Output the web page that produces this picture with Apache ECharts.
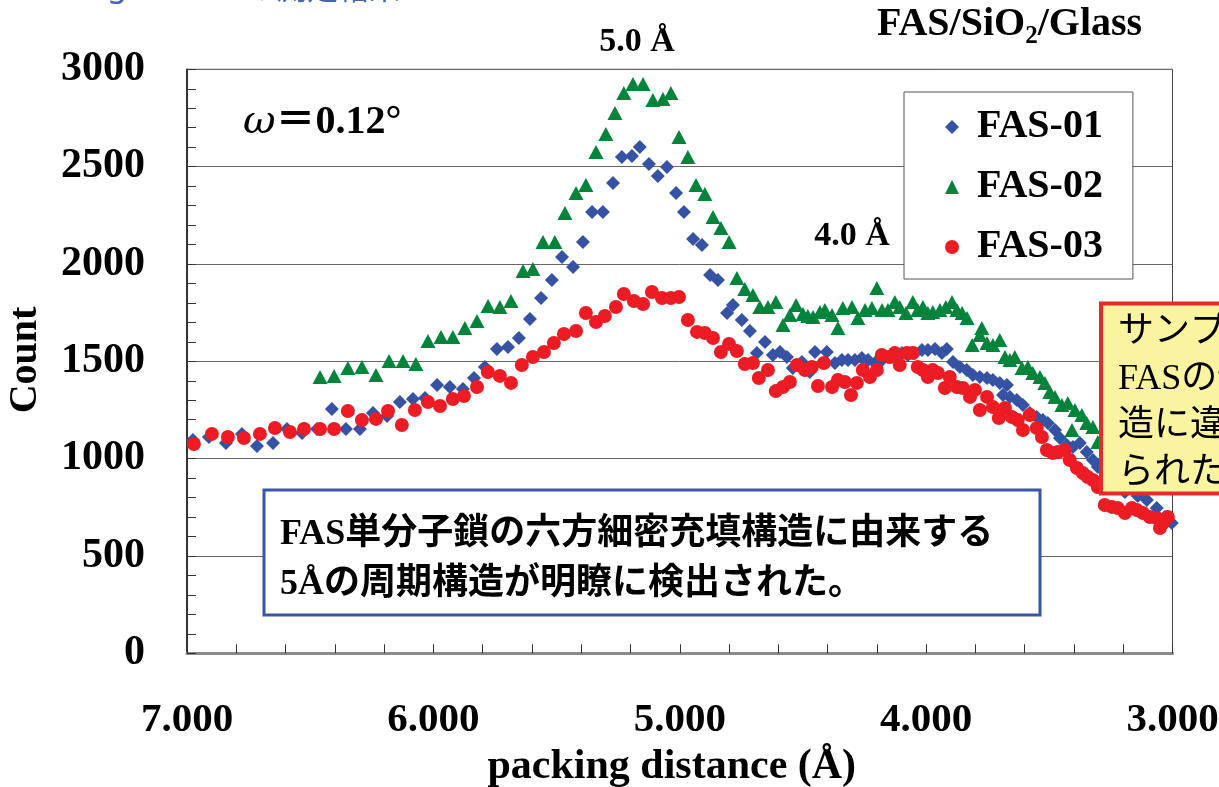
<!DOCTYPE html>
<html>
<head>
<meta charset="utf-8">
<script src="https://cdn.jsdelivr.net/npm/echarts@6/dist/echarts.min.js"></script>
<style>
  html, body { margin: 0; padding: 0; background: #fff; }
  #chart { width: 1219px; height: 787px; }
</style>
</head>
<body>
<div id="chart"></div>
<script>
// Series names
const seriesNames = ['FAS-01', 'FAS-02', 'FAS-03'];

// [packing distance (Å), count]
const fas01 = [
  [6.976,1096],[6.911,1111],[6.842,1080],[6.777,1127],[6.716,1065],[6.651,1080],[6.594,1152],[6.533,1132],
  [6.472,1152],[6.412,1255],[6.355,1152],[6.298,1152],[6.245,1234],[6.188,1219],[6.136,1291],[6.083,1306],
  [6.034,1311],[5.985,1378],[5.933,1368],[5.880,1358],[5.835,1414],[5.791,1471],[5.742,1563],[5.697,1573],
  [5.653,1620],[5.608,1717],[5.563,1825],[5.519,1918],[5.478,2036],[5.433,1984],[5.393,2113],[5.356,2267],
  [5.312,2267],[5.271,2416],[5.235,2550],[5.194,2555],[5.162,2601],[5.125,2514],[5.089,2452],[5.052,2498],
  [5.015,2365],[4.983,2267],[4.946,2128],[4.910,2097],[4.877,1943],[4.845,1918],[4.808,1748],[4.784,1789],
  [4.748,1712],[4.715,1656],[4.687,1543],[4.654,1599],[4.622,1532],[4.593,1548],[4.565,1522],[4.541,1466],
  [4.504,1496],[4.472,1445],[4.451,1548],[4.403,1548],[4.370,1491],[4.342,1507],[4.317,1507],[4.289,1507],
  [4.261,1517],[4.236,1507],[4.208,1491],[4.179,1507],[4.155,1522],[4.127,1532],[4.098,1543],[4.074,1532],
  [4.046,1543],[4.017,1558],[3.993,1558],[3.964,1563],[3.936,1543],[3.916,1563],[3.891,1496],[3.863,1471],
  [3.835,1455],[3.810,1430],[3.782,1419],[3.753,1414],[3.729,1404],[3.701,1389],[3.688,1327],[3.672,1378],
  [3.660,1317],[3.632,1301],[3.607,1276],[3.579,1234],[3.551,1214],[3.526,1198],[3.506,1183],[3.477,1147],
  [3.457,1106],[3.429,1070],[3.404,1060],[3.376,1080],[3.348,1034],[3.323,993],[3.303,957],[3.254,854],
  [3.193,829],[3.141,808],[3.104,788],[3.064,746],[3.031,700],[3.003,669]
];

const fas02 = [
  [6.460,1419],[6.403,1425],[6.347,1466],[6.290,1471],[6.233,1430],[6.180,1502],[6.123,1502],[6.071,1486],
  [6.022,1604],[5.969,1625],[5.921,1625],[5.872,1671],[5.823,1707],[5.778,1784],[5.730,1779],[5.685,1810],
  [5.636,1964],[5.596,1974],[5.555,2113],[5.507,2113],[5.466,2262],[5.421,2365],[5.381,2406],[5.340,2575],
  [5.300,2668],[5.263,2776],[5.227,2878],[5.190,2925],[5.149,2925],[5.109,2842],[5.068,2847],[5.036,2878],
  [5.003,2652],[4.967,2550],[4.934,2406],[4.898,2359],[4.865,2241],[4.833,2185],[4.800,2113],[4.768,1928],
  [4.736,1871],[4.703,1841],[4.675,1779],[4.642,1779],[4.610,1805],[4.581,1686],[4.553,1738],[4.528,1789],
  [4.500,1743],[4.480,1733],[4.459,1728],[4.431,1753],[4.411,1764],[4.382,1738],[4.358,1671],[4.338,1774],
  [4.301,1779],[4.277,1722],[4.248,1764],[4.220,1774],[4.200,1877],[4.179,1764],[4.155,1764],[4.127,1805],
  [4.107,1779],[4.082,1748],[4.054,1805],[4.034,1764],[4.013,1779],[3.993,1748],[3.973,1753],[3.944,1764],
  [3.920,1779],[3.895,1805],[3.875,1764],[3.854,1748],[3.834,1722],[3.813,1584],[3.782,1635],[3.774,1671],
  [3.753,1594],[3.729,1584],[3.701,1609],[3.680,1522],[3.660,1507],[3.640,1522],[3.611,1466],[3.587,1471],
  [3.567,1440],[3.538,1419],[3.518,1389],[3.498,1342],[3.477,1317],[3.449,1276],[3.425,1286],[3.408,1147],
  [3.396,1250],[3.368,1224],[3.348,1183],[3.323,1163],[3.303,1085],[3.213,1055],[3.133,1003],[3.051,952]
];

const fas03 = [
  [6.972,1075],[6.899,1127],[6.834,1111],[6.769,1106],[6.704,1127],[6.643,1157],[6.582,1137],[6.525,1152],
  [6.460,1152],[6.403,1152],[6.347,1245],[6.290,1198],[6.233,1204],[6.184,1245],[6.128,1173],[6.075,1250],
  [6.022,1291],[5.973,1270],[5.921,1306],[5.876,1322],[5.823,1368],[5.779,1445],[5.730,1425],[5.685,1389],
  [5.641,1481],[5.596,1522],[5.551,1548],[5.511,1594],[5.470,1640],[5.421,1656],[5.381,1748],[5.340,1702],
  [5.304,1733],[5.259,1779],[5.227,1846],[5.186,1810],[5.149,1794],[5.113,1856],[5.072,1825],[5.036,1825],
  [5.003,1830],[4.967,1712],[4.930,1651],[4.898,1645],[4.865,1620],[4.833,1548],[4.800,1589],[4.768,1553],
  [4.736,1486],[4.703,1491],[4.679,1414],[4.642,1455],[4.610,1347],[4.581,1368],[4.553,1394],[4.524,1481],
  [4.492,1455],[4.464,1471],[4.439,1373],[4.415,1491],[4.382,1368],[4.358,1404],[4.330,1394],[4.305,1327],
  [4.281,1389],[4.257,1455],[4.228,1419],[4.200,1455],[4.180,1532],[4.147,1522],[4.127,1543],[4.107,1481],
  [4.078,1543],[4.054,1543],[4.034,1471],[4.013,1455],[3.993,1419],[3.973,1455],[3.952,1440],[3.924,1363],
  [3.904,1419],[3.875,1368],[3.851,1363],[3.822,1317],[3.802,1353],[3.782,1250],[3.753,1317],[3.729,1265],
  [3.705,1209],[3.680,1260],[3.652,1214],[3.628,1198],[3.607,1147],[3.579,1224],[3.551,1157],[3.530,1111],
  [3.510,1044],[3.486,1029],[3.465,1034],[3.437,1044],[3.417,993],[3.388,952],[3.364,926],[3.344,906],
  [3.323,890],[3.303,854],[3.275,762],[3.246,752],[3.222,746],[3.193,721],[3.165,746],[3.145,736],
  [3.120,721],[3.092,700],[3.064,695],[3.051,644],[3.039,669],[3.019,700]
];

const serif = '"Liberation Serif", "Times New Roman", serif';
const mixed = '"Liberation Serif", "Noto Sans CJK JP", sans-serif';

const chart = echarts.init(document.getElementById('chart'), null, { renderer: 'canvas' });

const tickStyle = { color: '#333', width: 1 };

chart.setOption({
  animation: false,
  backgroundColor: '#fff',
  grid: {
    left: 187, right: 46.5, top: 69.3, bottom: 133.7,
    show: true, borderColor: '#444', borderWidth: 1,
    containLabel: false, outerBoundsMode: 'none'
  },
  xAxis: {
    type: 'value', inverse: true, min: 3, max: 7, interval: 1,
    axisLine: { show: true, onZero: false, lineStyle: { color: '#8a8a8a', width: 3 } },
    axisTick: { show: true, inside: true, length: 9, lineStyle: tickStyle },
    minorTick: { show: true, splitNumber: 5, length: 9, lineStyle: tickStyle },
    splitLine: { show: false },
    axisLabel: {
      formatter: v => v.toFixed(3), showMinLabel: true, showMaxLabel: true,
      fontSize: 41, fontWeight: 'bold', fontFamily: serif, color: '#000', margin: 47
    },
    name: 'packing distance (Å)', nameLocation: 'middle', nameGap: 90,
    nameTextStyle: { fontSize: 42, fontWeight: 'bold', fontFamily: serif, color: '#000', padding: [0, 16, 0, 0] }
  },
  yAxis: {
    type: 'value', min: 0, max: 3000, interval: 500,
    axisLine: { show: true, lineStyle: { color: '#111', width: 1.5 } },
    axisTick: { show: true, inside: true, length: 9, lineStyle: tickStyle },
    minorTick: { show: true, splitNumber: 5, length: 9, lineStyle: tickStyle },
    splitLine: { show: true, lineStyle: { color: '#666', width: 1 } },
    axisLabel: {
      formatter: v => String(v), showMinLabel: true, showMaxLabel: true,
      fontSize: 42, fontWeight: 'bold', fontFamily: serif, color: '#000', margin: 42
    }
  },
  legend: {
    data: seriesNames, orient: 'vertical', left: 904, top: 92,
    padding: [15, 30, 12, 41], itemGap: 20, itemWidth: 14, itemHeight: 14,
    borderColor: '#555', borderWidth: 1, backgroundColor: '#fff', selectedMode: false,
    textStyle: { fontSize: 40, fontWeight: 'bold', fontFamily: serif, color: '#000', lineHeight: 40,
      padding: [0, 0, 0, 13] }
  },
  series: [
    { name: seriesNames[0], type: 'scatter', data: fas01, symbol: 'diamond', symbolSize: 14,
      itemStyle: { color: '#3652A4', opacity: 1 }, emphasis: { disabled: true } },
    { name: seriesNames[1], type: 'scatter', data: fas02, symbol: 'triangle', symbolSize: [15, 14],
      itemStyle: { color: '#00843C', opacity: 1 }, emphasis: { disabled: true } },
    { name: seriesNames[2], type: 'scatter', data: fas03, symbol: 'circle', symbolSize: 14,
      itemStyle: { color: '#ED1C24', opacity: 1 }, emphasis: { disabled: true } }
  ],
  graphic: [
    // heading line running off the top edge
    { type: 'text', x: 127, y: -13, z: 100, style: { text: 'Grazing', align: 'right', verticalAlign: 'middle',
      fontSize: 32, fontFamily: '"Noto Sans", sans-serif', fill: '#4466B8' } },
    { type: 'text', x: 245, y: -13, z: 100, style: { text: 'の測定結果', align: 'left', verticalAlign: 'middle',
      fontSize: 31, fontFamily: '"Noto Sans CJK JP", sans-serif', fill: '#4466B8' } },
    // sample stack
    { type: 'text', x: 877, y: 27, z: 100, style: {
      text: '{a|FAS/SiO}{b|2}{a|/Glass}', align: 'left', verticalAlign: 'middle',
      rich: {
        a: { fontSize: 40, fontWeight: 'bold', fontFamily: serif, fill: '#000', padding: [0, 0, 5, 0] },
        b: { fontSize: 25, fontWeight: 'bold', fontFamily: serif, fill: '#000', verticalAlign: 'bottom' }
      } } },
    // peak labels
    { type: 'text', x: 637, y: 42, z: 100, style: { text: '5.0 Å', align: 'center', verticalAlign: 'middle',
      fontSize: 34, fontWeight: 'bold', fontFamily: serif, fill: '#000' } },
    { type: 'text', x: 852, y: 236, z: 100, style: { text: '4.0 Å', align: 'center', verticalAlign: 'middle',
      fontSize: 34, fontWeight: 'bold', fontFamily: serif, fill: '#000' } },
    // incidence angle
    { type: 'text', x: 243, y: 123, z: 100, style: {
      text: '{w|ω}{r|＝0.12°}', align: 'left', verticalAlign: 'middle',
      rich: {
        w: { fontSize: 40, fontStyle: 'italic', fontFamily: '"DejaVu Serif", serif', fill: '#000' },
        r: { fontSize: 40, fontWeight: 'bold', fontFamily: mixed, fill: '#000' }
      } } },
    // y-axis title
    { type: 'text', x: 26, y: 360, rotation: Math.PI / 2, z: 100, style: { text: 'Count', align: 'center',
      verticalAlign: 'middle', fontSize: 40, fontWeight: 'bold', fontFamily: serif, fill: '#000' } },
    // conclusion box
    { type: 'group', z: 100, children: [
      { type: 'rect', z: 100, shape: { x: 264, y: 490, width: 776, height: 125 },
        style: { fill: '#fff', stroke: '#3A56A8', lineWidth: 3 } },
      { type: 'text', z: 101, x: 280, y: 510, style: {
        text: 'FAS単分子鎖の六方細密充填構造に由来する\n5Åの周期構造が明瞭に検出された。',
        align: 'left', verticalAlign: 'top', lineHeight: 50,
        fontSize: 36, fontWeight: 'bold', fontFamily: mixed, fill: '#000' } }
    ] },
    // side note running off the right edge
    { type: 'group', z: 100, children: [
      { type: 'rect', z: 100, shape: { x: 1101, y: 303.5, width: 160, height: 190 },
        style: { fill: '#FAF4A0', stroke: '#E52A2A', lineWidth: 4 } },
      { type: 'text', z: 101, x: 1118, y: 309.5, style: {
        text: 'サンプル間で\nFASの分子構\n造に違いが見\nられた。',
        align: 'left', verticalAlign: 'top', lineHeight: 47,
        fontSize: 36, fontFamily: mixed, fill: '#000' } }
    ] }
  ]
});
</script>
</body>
</html>
